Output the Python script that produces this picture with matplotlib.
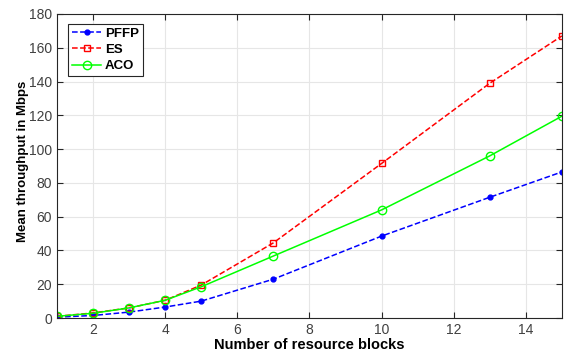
import matplotlib
matplotlib.use("Agg")
import matplotlib.pyplot as plt

plt.rcParams['font.family'] = ['Liberation Sans', 'DejaVu Sans']

# data
blocks = [1, 2, 3, 4, 5, 7, 10, 13, 15]
pffp = [0.5, 1.5, 3.5, 6.5, 10, 23, 48.5, 71.5, 86.5]
es = [1, 3, 6, 10.5, 19.5, 44.5, 91.5, 139, 167]
aco = [1, 2.8, 6, 10.5, 18.5, 36.7, 64, 96, 119.5]

fig = plt.figure(figsize=(5.67, 3.56), dpi=100)
ax = fig.add_axes([0.1005, 0.1067, 0.8905, 0.854])

ax.plot(blocks, pffp, '--', color='#0000ff', marker='.', markersize=7, lw=1.1, label='PFFP')
ax.plot(blocks, es, '--', color='#ff0000', marker='s', markersize=4, mfc='none', lw=1.1, label='ES')
ax.plot(blocks, aco, '-', color='#00ff00', marker='o', markersize=6, mfc='none', lw=1.1, label='ACO')

ax.set_xlim(1, 15)
ax.set_ylim(0, 180)
ax.set_xticks([2, 4, 6, 8, 10, 12, 14])
ax.set_yticks(range(0, 181, 20))
ax.grid(True, color='#e6e6e6', lw=0.8)
ax.tick_params(direction='in', length=4, labelsize=10, colors='#262626', labelcolor='#404040',
               top=True, right=True)
for s in ax.spines.values():
    s.set_color('#262626')
    s.set_linewidth(0.8)

ax.set_xlabel('Number of resource blocks', fontsize=10.5, fontweight='bold', labelpad=1)
ax.set_ylabel('Mean throughput in Mbps', fontsize=9.5, fontweight='bold')
ax.yaxis.set_label_coords(-0.056, 0.515)

leg = ax.legend(loc='upper left', prop={'weight': 'bold', 'size': 9.5}, fancybox=False,
                edgecolor='#262626', framealpha=1, handlelength=2.2, handletextpad=0.3,
                borderpad=0.3, labelspacing=0.3, borderaxespad=0,
                bbox_to_anchor=(0.022, 0.968))
leg.get_frame().set_linewidth(0.8)

fig.savefig('out.png', dpi=100)
